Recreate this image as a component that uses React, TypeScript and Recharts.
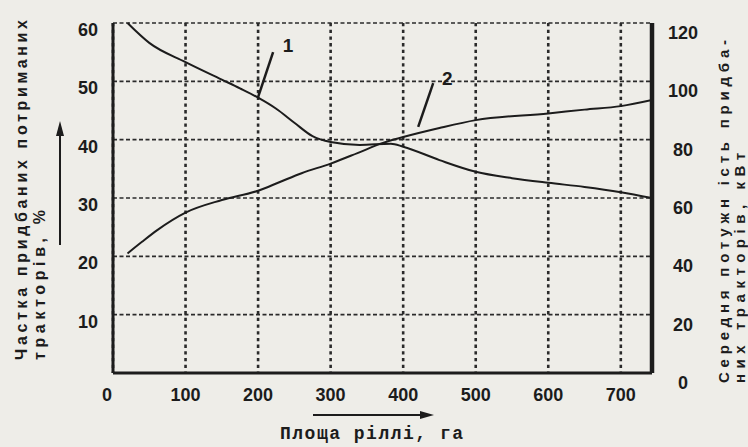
import React from 'react';
import {
  LineChart, Line, XAxis, YAxis, CartesianGrid, ReferenceLine, ReferenceDot, Label,
} from 'recharts';

// ---- data ----
const xTicks = [0, 100, 200, 300, 400, 500, 600, 700];
const leftTicks = [10, 20, 30, 40, 50, 60];
const rightTicks = [0, 20, 40, 60, 80, 100, 120];

// Curve 1: share of purchased used tractors, %
const area1 = [20, 50, 100, 150, 175, 200, 225, 250, 275, 300, 340, 383, 400, 450, 500, 550, 600, 650, 700, 743];
const share1 = [60, 56.6, 53.3, 50.3, 48.8, 47.2, 45.3, 42.9, 40.6, 39.6, 39.1, 39.3, 38.8, 36.5, 34.5, 33.4, 32.6, 31.9, 31.0, 30.0];

// Curve 2: average power of purchased tractors, kW
const area2 = [20, 40, 61, 100, 150, 200, 230, 260, 300, 337, 372, 400, 450, 500, 600, 650, 700, 743];
const power2 = [41, 45, 49, 55, 59.3, 62.5, 65.5, 68.5, 71.8, 75.4, 78.9, 80.9, 84.0, 86.7, 89.0, 90.3, 91.5, 93.6];

const series1 = area1.map((x, i) => ({ x, v: share1[i] }));
const series2 = area2.map((x, i) => ({ x, v: power2[i] }));

const INK = '#1c1c1c';
const SANS = '"Liberation Sans", Arial, sans-serif';
const MONO = '"Liberation Mono", "Courier New", monospace';

const LeftTick = (props: any) => {
  const { x, y, payload } = props;
  return (
    <text x={x - 15} y={y + 13} textAnchor="end" fontFamily={SANS} fontWeight={700} fontSize={18} fill={INK}>
      {payload.value}
    </text>
  );
};

const RightTick = (props: any) => {
  const { x, y, payload } = props;
  return (
    <text x={x + 31} y={y + 16} textAnchor="middle" fontFamily={SANS} fontWeight={700} fontSize={18} fill={INK}>
      {payload.value}
    </text>
  );
};

const BottomTick = (props: any) => {
  const { x, y, payload } = props;
  const dx = payload.value === 0 ? -6 : 0;
  return (
    <text x={x + dx} y={y + 28} textAnchor="middle" fontFamily={SANS} fontWeight={700} fontSize={18} fill={INK}>
      {payload.value}
    </text>
  );
};

const LeftTitle = () => (
  <g>
    <text transform="translate(27,360) rotate(-90)" textLength={340} lengthAdjust="spacing"
      fontFamily={SANS} fontWeight={700} fontSize={16} fill={INK}>Частка придбаних потриманих</text>
    <text transform="translate(45,360) rotate(-90)" textLength={150} lengthAdjust="spacing"
      fontFamily={SANS} fontWeight={700} fontSize={16} fill={INK}>тракторів, %</text>
    <line x1={60} y1={245} x2={60} y2={132} stroke={INK} strokeWidth={2} />
    <path d="M60,121 L56,136 L64,136 Z" fill={INK} />
  </g>
);

const RightTitle = () => (
  <g>
    <text transform="translate(729,383) rotate(-90)" textLength={343} lengthAdjust="spacing"
      fontFamily={SANS} fontWeight={700} fontSize={15} fill={INK}>Середня потужн ість придба-</text>
    <text transform="translate(745,383) rotate(-90)" textLength={230} lengthAdjust="spacing"
      fontFamily={SANS} fontWeight={700} fontSize={15} fill={INK}>них тракторів, кВт</text>
  </g>
);

const BottomTitle = () => (
  <g>
    <line x1={313} y1={415} x2={424} y2={415} stroke={INK} strokeWidth={2} />
    <path d="M434,415 L420,411 L420,419 Z" fill={INK} />
    <text x={280} y={439} textLength={183} lengthAdjust="spacing"
      fontFamily={MONO} fontWeight={700} fontSize={18} fill={INK}>Площа ріллі, га</text>
  </g>
);

export default function App() {
  return (
    <div style={{ position: 'absolute', left: 0, top: 0, width: 748, height: 447, background: '#eeede8' }}>
      <LineChart width={748} height={447} margin={{ top: 23, right: 0, bottom: 0, left: 0 }}>
        <CartesianGrid yAxisId="left" vertical={false} stroke="#2a2a2a" strokeWidth={1.6} strokeDasharray="4 2.5" />
        <CartesianGrid yAxisId="left" horizontal={false} stroke="#2a2a2a" strokeWidth={2.6} strokeDasharray="3.3 3.4" />
        <XAxis dataKey="x" type="number" domain={[0, 743]} ticks={xTicks} height={74}
          allowDataOverflow tickLine={false} tickSize={0} tickMargin={0}
          axisLine={{ stroke: INK, strokeWidth: 3 }} tick={<BottomTick />}>
          <Label content={<BottomTitle />} />
        </XAxis>
        <YAxis yAxisId="left" orientation="left" domain={[0, 60]} ticks={leftTicks} width={113}
          tickLine={false} tickSize={0} tickMargin={0}
          axisLine={{ stroke: INK, strokeWidth: 3 }} tick={<LeftTick />}>
          <Label content={<LeftTitle />} />
        </YAxis>
        <YAxis yAxisId="right" orientation="right" domain={[0, 120]} ticks={rightTicks} width={96}
          tickLine={false} tickSize={0} tickMargin={0}
          axisLine={{ stroke: INK, strokeWidth: 4.5 }} tick={<RightTick />}>
          <Label content={<RightTitle />} />
        </YAxis>
        <Line yAxisId="left" data={series1} dataKey="v" type="monotone" stroke={INK} strokeWidth={2}
          dot={false} isAnimationActive={false} />
        <Line yAxisId="right" data={series2} dataKey="v" type="monotone" stroke={INK} strokeWidth={2}
          dot={false} isAnimationActive={false} />
        <ReferenceLine yAxisId="left" segment={[{ x: 200, y: 47.3 }, { x: 220.7, y: 55.0 }]}
          stroke={INK} strokeWidth={2.5} ifOverflow="visible" />
        <ReferenceLine yAxisId="left" segment={[{ x: 420.7, y: 42.2 }, { x: 441.4, y: 49.7 }]}
          stroke={INK} strokeWidth={2.5} ifOverflow="visible" />
        <ReferenceDot yAxisId="left" x={241.4} y={56.2} r={0} fill="none" stroke="none" ifOverflow="visible"
          label={{ value: '1', position: 'center', fill: INK, fontSize: 19, fontWeight: 700, fontFamily: SANS }} />
        <ReferenceDot yAxisId="left" x={460.7} y={50.6} r={0} fill="none" stroke="none" ifOverflow="visible"
          label={{ value: '2', position: 'center', fill: INK, fontSize: 19, fontWeight: 700, fontFamily: SANS }} />
      </LineChart>
    </div>
  );
}
